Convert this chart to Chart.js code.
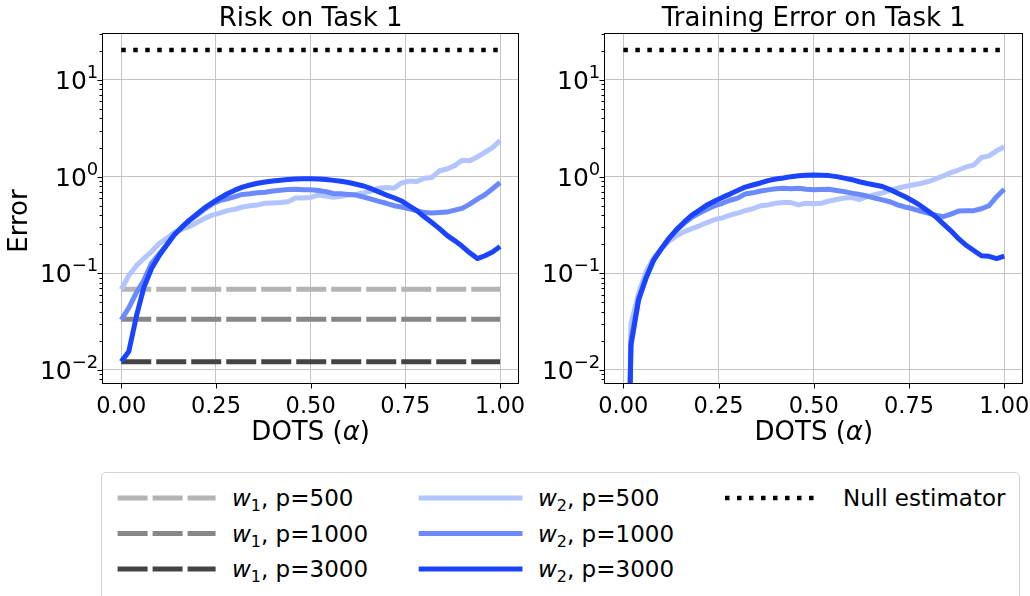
<!DOCTYPE html>
<html>
<head>
<meta charset="utf-8">
<script src="https://cdn.jsdelivr.net/npm/chart.js@4.4.0/dist/chart.umd.min.js"></script>
<style>
  body { margin: 0; background: #fff; }
  #fig { position: relative; width: 1030px; height: 596px; overflow: hidden; background: #fff; font-family: 'DejaVu Sans', sans-serif; }
  #fig canvas { position: absolute; top: 0; }
  #legend { position: absolute; left: 101px; top: 472px; width: 919px; height: 140px; border: 1px solid #d4d4d4; border-radius: 5px; box-sizing: border-box; }
  #legend svg { position: absolute; left: 0; top: 0; }
  .lbl { position: absolute; font-size: 23px; line-height: 1; white-space: nowrap; transform: translateY(-50%); color: #000; }
  .lbl i { font-style: oblique; }
  .lbl sub { font-size: 16px; vertical-align: -5px; line-height: 0; }
</style>
</head>
<body>
<div id="fig">
  <canvas id="risk" width="525" height="450" style="left:0"></canvas>
  <canvas id="train" width="505" height="450" style="left:525px"></canvas>
  <div id="legend"></div>
</div>
<script>
// DOTS alpha grid
const alphas = [0, 0.02, 0.04, 0.06, 0.08, 0.1, 0.12, 0.14, 0.16, 0.18, 0.2, 0.22, 0.24, 0.26, 0.28, 0.3, 0.32, 0.34, 0.36, 0.38,
  0.4, 0.42, 0.44, 0.46, 0.48, 0.5, 0.52, 0.54, 0.56, 0.58, 0.6, 0.62, 0.64, 0.66, 0.68, 0.7, 0.72, 0.74, 0.76, 0.78,
  0.8, 0.82, 0.84, 0.86, 0.88, 0.9, 0.92, 0.94, 0.96, 0.98, 1.0];

// Risk on Task 1, w2
const riskP500 = [0.068, 0.095, 0.12, 0.143, 0.168, 0.203, 0.23, 0.265, 0.285, 0.305, 0.335, 0.37, 0.40, 0.42, 0.445, 0.46, 0.485, 0.50, 0.51, 0.53,
  0.535, 0.54, 0.55, 0.60, 0.60, 0.61, 0.645, 0.63, 0.61, 0.625, 0.65, 0.655, 0.68, 0.71, 0.76, 0.77, 0.76, 0.86, 0.90, 0.89,
  0.96, 0.98, 1.15, 1.2, 1.3, 1.48, 1.46, 1.6, 1.78, 2.0, 2.36];
const riskP1000 = [0.033, 0.044, 0.063, 0.085, 0.127, 0.158, 0.196, 0.25, 0.30, 0.35, 0.40, 0.46, 0.52, 0.565, 0.59, 0.62, 0.655, 0.665, 0.68, 0.69,
  0.71, 0.725, 0.735, 0.74, 0.73, 0.73, 0.72, 0.70, 0.67, 0.665, 0.655, 0.645, 0.615, 0.585, 0.555, 0.53, 0.50, 0.485, 0.465, 0.445,
  0.425, 0.42, 0.425, 0.43, 0.45, 0.47, 0.52, 0.585, 0.65, 0.75, 0.87];
const riskP3000 = [0.0122, 0.0155, 0.036, 0.072, 0.112, 0.152, 0.196, 0.25, 0.30, 0.355, 0.41, 0.475, 0.535, 0.60, 0.665, 0.725, 0.78, 0.82, 0.855, 0.88,
  0.9, 0.92, 0.935, 0.945, 0.95, 0.952, 0.948, 0.935, 0.915, 0.895, 0.87, 0.835, 0.80, 0.75, 0.695, 0.645, 0.605, 0.56, 0.50, 0.445,
  0.385, 0.335, 0.29, 0.247, 0.218, 0.19, 0.163, 0.142, 0.152, 0.166, 0.189];

// Training Error on Task 1, w2 (first point is below the axis)
const trainP500 = [1e-6, 0.03, 0.062, 0.105, 0.145, 0.18, 0.215, 0.245, 0.27, 0.29, 0.31, 0.335, 0.36, 0.375, 0.40, 0.42, 0.445, 0.465, 0.50, 0.51,
  0.53, 0.54, 0.54, 0.51, 0.53, 0.525, 0.53, 0.56, 0.58, 0.60, 0.61, 0.58, 0.62, 0.65, 0.68, 0.72, 0.76, 0.79, 0.82, 0.85,
  0.89, 0.95, 1.02, 1.1, 1.17, 1.26, 1.32, 1.58, 1.64, 1.85, 2.04];
const trainP1000 = [1e-6, 0.02, 0.055, 0.092, 0.138, 0.18, 0.23, 0.28, 0.33, 0.38, 0.42, 0.46, 0.50, 0.53, 0.57, 0.60, 0.66, 0.68, 0.71, 0.73,
  0.75, 0.76, 0.75, 0.76, 0.74, 0.73, 0.735, 0.74, 0.72, 0.70, 0.675, 0.655, 0.63, 0.60, 0.575, 0.55, 0.51, 0.485, 0.465, 0.44,
  0.42, 0.40, 0.385, 0.41, 0.44, 0.445, 0.445, 0.465, 0.50, 0.62, 0.74];
const trainP3000 = [1e-6, 0.018, 0.053, 0.09, 0.138, 0.18, 0.23, 0.285, 0.34, 0.40, 0.45, 0.51, 0.56, 0.61, 0.66, 0.72, 0.78, 0.82, 0.86, 0.91,
  0.945, 0.97, 1.0, 1.02, 1.035, 1.04, 1.035, 1.025, 1.0, 0.965, 0.93, 0.885, 0.85, 0.82, 0.79, 0.735, 0.675, 0.62, 0.56, 0.50,
  0.44, 0.385, 0.325, 0.275, 0.228, 0.195, 0.172, 0.152, 0.15, 0.142, 0.151];

// w1 risk levels for p = 500, 1000, 3000 and the null estimator level
const pValues = [500, 1000, 3000];
const w1Risk = [0.0684, 0.0335, 0.0122];
const nullLevel = 20.4;

const xTickValues = [0, 0.25, 0.5, 0.75, 1];
const yMajorTicks = [0.01, 0.1, 1, 10];
const yTickExps = ['\u22122', '\u22121', '0', '1'];   // shown as 10^exp
const yMin = 0.00716, yMax = 30.4;

const grayColors = ['#b4b4b4', '#878787', '#444444'];
const blueColors = ['#b3c5ff', '#6b8aff', '#1a44ff'];
const FONT = '"DejaVu Sans"';

function isMajor(v) { return yMajorTicks.some(m => Math.abs(v / m - 1) < 1e-6); }

// all 1..9 x 10^k ticks inside the y range
const yAllTicks = [];
for (let k = -3; k <= 1; k++) {
  for (let m = 1; m <= 9; m++) {
    const v = m * Math.pow(10, k);
    if (v >= yMin && v <= yMax) yAllTicks.push(v);
  }
}

function series(ys) { return alphas.map((a, i) => ({ x: a, y: ys[i] })); }
function flat(v) { return [{ x: 0, y: v }, { x: 1, y: v }]; }
function line(data, color, width, dash) {
  return { data, borderColor: color, borderWidth: width, borderDash: dash || [], pointRadius: 0,
    tension: 0, borderJoinStyle: 'round', fill: false, clip: 0 };
}

const deco = {
  id: 'deco',
  afterDraw(chart, args, o) {
    const { ctx, chartArea: a, scales: { x, y } } = chart;
    ctx.save();
    ctx.strokeStyle = '#000';
    ctx.lineWidth = 1;
    const L = Math.round(a.left) + 0.5, R = Math.round(a.right) - 0.5;
    const T = Math.round(a.top) + 0.5, B = Math.round(a.bottom) - 0.5;
    ctx.strokeRect(L, T, R - L, B - T);
    ctx.beginPath();
    xTickValues.forEach(v => {
      const px = Math.round(x.getPixelForValue(v)) + 0.5;
      ctx.moveTo(px, B); ctx.lineTo(px, B + 5);
    });
    yAllTicks.forEach(v => {
      const py = Math.round(y.getPixelForValue(v)) + 0.5;
      ctx.moveTo(L, py); ctx.lineTo(L - (isMajor(v) ? 5 : 3), py);
    });
    ctx.stroke();

    ctx.fillStyle = '#000';
    ctx.textBaseline = 'alphabetic';

    // y tick labels 10^k
    ctx.textAlign = 'right';
    yMajorTicks.forEach((v, i) => {
      const py = y.getPixelForValue(v);
      const right = a.left - 4;
      ctx.font = '18px ' + FONT;
      const ew = ctx.measureText(yTickExps[i]).width;
      ctx.fillText(yTickExps[i], right, py - 2);
      ctx.font = '25px ' + FONT;
      ctx.fillText('10', right - ew, py + 9);
    });

    const cx = (a.left + a.right) / 2;
    ctx.font = '26px ' + FONT;
    ctx.textAlign = 'center';
    ctx.fillText(o.title, cx, 26);

    // x label: DOTS (alpha) with italic alpha
    const parts = [['DOTS (', '26px ' + FONT], ['\u03B1', 'italic 26px ' + FONT], [')', '26px ' + FONT]];
    let total = 0;
    parts.forEach(p => { ctx.font = p[1]; total += ctx.measureText(p[0]).width; });
    let px = cx - total / 2;
    ctx.textAlign = 'left';
    parts.forEach(p => { ctx.font = p[1]; ctx.fillText(p[0], px, 440); px += ctx.measureText(p[0]).width; });

    if (o.yLabel) {
      ctx.font = '26px ' + FONT;
      ctx.textAlign = 'center';
      ctx.translate(27, 221);
      ctx.rotate(-Math.PI / 2);
      ctx.fillText(o.yLabel, 0, 0);
    }
    ctx.restore();
  }
};

function makeChart(id, title, yLabel, yWidth, padRight, datasets) {
  return new Chart(document.getElementById(id), {
    type: 'line',
    data: { datasets },
    options: {
      responsive: false,
      animation: false,
      devicePixelRatio: 1,
      layout: { padding: { top: 33.3, right: padRight, left: 0, bottom: 0 } },
      plugins: {
        legend: { display: false },
        tooltip: { enabled: false },
        deco: { title, yLabel }
      },
      scales: {
        x: {
          type: 'linear', min: -0.05, max: 1.05,
          afterBuildTicks: s => { s.ticks = xTickValues.map(v => ({ value: v })); },
          afterFit: s => { s.height = 66; s.paddingLeft = 0; s.paddingRight = 0; },
          ticks: { autoSkip: false, maxRotation: 0, padding: 10, color: '#000',
            font: { family: FONT, size: 22.5 }, callback: v => v.toFixed(2) },
          grid: { drawTicks: false, color: '#c4c4c4', lineWidth: 1 },
          border: { display: false }
        },
        y: {
          type: 'logarithmic', min: yMin, max: yMax,
          afterBuildTicks: s => { s.ticks = yAllTicks.map(v => ({ value: v })); },
          afterFit: s => { s.width = yWidth; s.paddingTop = 0; s.paddingBottom = 0; },
          ticks: { display: false, autoSkip: false },
          grid: { drawTicks: false, lineWidth: 1, color: c => (c.tick && isMajor(c.tick.value)) ? '#c4c4c4' : 'rgba(0,0,0,0)' },
          border: { display: false }
        }
      }
    },
    plugins: [deco]
  });
}

const nullDash = [4.5, 7.5];
const w1Dash = [30, 5];

makeChart('risk', 'Risk on Task 1', 'Error', 102.3, 6, [
  line(series(riskP3000), blueColors[2], 5),
  line(series(riskP1000), blueColors[1], 5),
  line(series(riskP500), blueColors[0], 5),
  line(flat(w1Risk[0]), grayColors[0], 5, w1Dash),
  line(flat(w1Risk[1]), grayColors[1], 5, w1Dash),
  line(flat(w1Risk[2]), grayColors[2], 5, w1Dash),
  line(flat(nullLevel), '#000', 4.5, nullDash)
]);

makeChart('train', 'Training Error on Task 1', null, 79.3, 6.7, [
  line(series(trainP3000), blueColors[2], 5),
  line(series(trainP1000), blueColors[1], 5),
  line(series(trainP500), blueColors[0], 5),
  line(flat(nullLevel), '#000', 4.5, nullDash)
]);

// legend (coordinates relative to the legend box)
const legend = document.getElementById('legend');
const rows = [25, 60.5, 96];
let svg = '<svg width="917" height="138">';
let html = '';
pValues.forEach((p, i) => {
  svg += `<line x1="15.6" x2="113.6" y1="${rows[i]}" y2="${rows[i]}" stroke="${grayColors[i]}" stroke-width="5" stroke-dasharray="${w1Dash.join(' ')}"/>`;
  svg += `<line x1="316.7" x2="420.5" y1="${rows[i]}" y2="${rows[i]}" stroke="${blueColors[i]}" stroke-width="5"/>`;
  html += `<div class="lbl" style="left:130px;top:${rows[i]}px"><i>w</i><sub>1</sub>, p=${p}</div>`;
  html += `<div class="lbl" style="left:436px;top:${rows[i]}px"><i>w</i><sub>2</sub>, p=${p}</div>`;
});
svg += `<line x1="623" x2="715" y1="${rows[0]}" y2="${rows[0]}" stroke="#000" stroke-width="4.5" stroke-dasharray="${nullDash.join(' ')}"/>`;
svg += '</svg>';
html += `<div class="lbl" style="left:741px;top:${rows[0]}px">Null estimator</div>`;
legend.innerHTML = svg + html;
</script>
</body>
</html>
